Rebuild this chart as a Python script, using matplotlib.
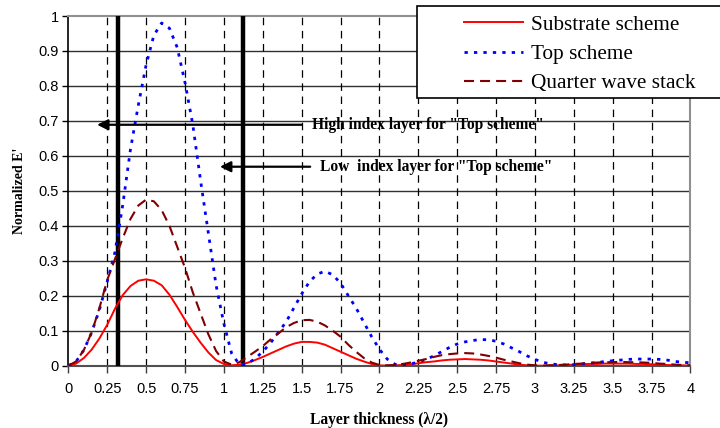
import numpy as np
import matplotlib
matplotlib.use("Agg")
import matplotlib.pyplot as plt
from matplotlib.patches import Rectangle

# ---- data ----
thickness = np.linspace(0, 4, 81)  # layer thickness in units of lambda/2, step 0.05

substrate_scheme = [
    0.000, 0.006, 0.022, 0.046, 0.078, 0.117, 0.163, 0.202, 0.228, 0.243,
    0.247, 0.243, 0.230, 0.203, 0.168, 0.131, 0.097, 0.066, 0.038, 0.016,
    0.005, 0.001, 0.003, 0.008, 0.016, 0.025, 0.035, 0.045, 0.055, 0.063,
    0.068, 0.068, 0.066, 0.060, 0.050, 0.040, 0.030, 0.020, 0.012, 0.005,
    0.001, 0.000, 0.001, 0.002, 0.004, 0.007, 0.010, 0.012, 0.015, 0.017,
    0.018, 0.019, 0.018, 0.017, 0.015, 0.012, 0.009, 0.006, 0.003, 0.001,
    0.000, 0.000, 0.001, 0.001, 0.002, 0.003, 0.004, 0.005, 0.005, 0.006,
    0.006, 0.006, 0.006, 0.005, 0.005, 0.004, 0.003, 0.002, 0.001, 0.001,
    0.000]

top_scheme = [
    0.000, 0.012, 0.045, 0.095, 0.160, 0.240, 0.325, 0.460, 0.620, 0.745,
    0.860, 0.945, 0.980, 0.965, 0.910, 0.810, 0.690, 0.530, 0.380, 0.230,
    0.120, 0.035, 0.003, 0.005, 0.020, 0.040, 0.065, 0.095, 0.125, 0.165,
    0.205, 0.240, 0.262, 0.270, 0.260, 0.236, 0.200, 0.165, 0.124, 0.083,
    0.047, 0.019, 0.004, 0.002, 0.005, 0.010, 0.018, 0.028, 0.040, 0.052,
    0.062, 0.068, 0.072, 0.075, 0.074, 0.070, 0.062, 0.051, 0.040, 0.028,
    0.018, 0.010, 0.005, 0.003, 0.002, 0.003, 0.005, 0.007, 0.009, 0.012,
    0.014, 0.016, 0.018, 0.019, 0.019, 0.019, 0.018, 0.016, 0.012, 0.010,
    0.008]

quarter_wave = [
    0.000, 0.012, 0.045, 0.095, 0.165, 0.245, 0.305, 0.365, 0.420, 0.458,
    0.475, 0.470, 0.445, 0.400, 0.340, 0.280, 0.210, 0.150, 0.090, 0.042,
    0.012, 0.003, 0.010, 0.025, 0.040, 0.056, 0.075, 0.092, 0.110, 0.122,
    0.130, 0.131, 0.126, 0.115, 0.100, 0.083, 0.060, 0.040, 0.022, 0.009,
    0.002, 0.001, 0.002, 0.005, 0.009, 0.014, 0.019, 0.025, 0.030, 0.033,
    0.035, 0.036, 0.035, 0.032, 0.028, 0.023, 0.017, 0.012, 0.007, 0.003,
    0.001, 0.000, 0.001, 0.002, 0.003, 0.005, 0.006, 0.008, 0.009, 0.010,
    0.010, 0.011, 0.010, 0.010, 0.009, 0.008, 0.006, 0.005, 0.003, 0.002,
    0.001]

series_names = ["Substrate scheme", "Top scheme", "Quarter wave stack"]
layer_boundaries = [0.32, 1.12]
x_ticks = [0, 0.25, 0.5, 0.75, 1, 1.25, 1.5, 1.75, 2, 2.25, 2.5, 2.75, 3,
           3.25, 3.5, 3.75, 4]
x_tick_labels = ["0", "0.25", "0.5", "0.75", "1", "1.25", "1.5", "1.75", "2",
                 "2.25", "2.5", "2.75", "3", "3.25", "3.5", "3.75", "4"]
y_ticks = [0, 0.1, 0.2, 0.3, 0.4, 0.5, 0.6, 0.7, 0.8, 0.9, 1]
y_tick_labels = ["0", "0.1", "0.2", "0.3", "0.4", "0.5", "0.6", "0.7", "0.8",
                 "0.9", "1"]
annotations = [
    ("High index layer for \"Top scheme\"", 0.689, 1.50, 0.185, 1.567),
    ("Low  index layer for \"Top scheme\"", 0.569, 1.555, 0.975, 1.618),
]

# ---- figure ----
fig = plt.figure(figsize=(7.2, 4.28), dpi=100)
ax = fig.add_axes([0.0949, 0.1456, 0.8641, 0.8170])

# grid
for yv in y_ticks[1:-1]:
    ax.axhline(yv, color="#303030", lw=1.0, zorder=1)
for xv in x_ticks[1:-1]:
    ax.axvline(xv, color="black", lw=0.9, dashes=(6.0, 4.5), zorder=1)

# thick layer boundary lines
for xb in layer_boundaries:
    ax.plot([xb, xb], [0, 1], color="black", lw=3.2, solid_capstyle="butt",
            zorder=3)

l1, = ax.plot(thickness, substrate_scheme, color="#FF0000", lw=1.4, zorder=4)
l2, = ax.plot(thickness, top_scheme, color="#0000FF", lw=2.0,
              dashes=(1.2, 2.2), zorder=4)
l3, = ax.plot(thickness, quarter_wave, color="#800000", lw=1.5,
              dashes=(4.8, 2.9), zorder=4)

# arrows and their labels
for text, yv, x_from, x_to, x_text in annotations:
    ax.annotate("", xy=(x_to, yv), xytext=(x_from, yv),
                arrowprops=dict(arrowstyle="-|>", color="black", lw=1.6,
                                mutation_scale=16, shrinkA=0, shrinkB=0),
                zorder=5)
    ax.text(x_text, yv, text, fontsize=11.2, fontweight="bold",
            family="Liberation Serif", va="center", ha="left", zorder=5)

ax.set_xlim(0, 4)
ax.set_ylim(0, 1)
ax.set_xticks(x_ticks)
ax.set_xticklabels(x_tick_labels)
ax.set_yticks(y_ticks)
ax.set_yticklabels(y_tick_labels)
for lab in ax.get_xticklabels() + ax.get_yticklabels():
    lab.set_family("Liberation Sans")
    lab.set_fontsize(10.5)
ax.tick_params(axis="x", direction="out", length=5, width=1, pad=7,
               color="#404040")
ax.tick_params(axis="y", direction="out", length=4, width=1, pad=3)

for side in ["top", "right"]:
    ax.spines[side].set_color("#909090")
    ax.spines[side].set_linewidth(1.5)
ax.spines["bottom"].set_color("#505050")
ax.spines["bottom"].set_linewidth(1.5)
ax.spines["left"].set_color("black")
ax.spines["left"].set_linewidth(1.2)

ax.set_xlabel("Layer thickness (λ/2)", fontsize=11.2, fontweight="bold",
              family="Liberation Serif", labelpad=11)
ax.set_ylabel("Normalized E'", fontsize=10, fontweight="bold",
              family="Liberation Serif", labelpad=9)

# legend box
fig.add_artist(Rectangle((417 / 720, 1 - 98 / 428), 0.45, 92 / 428,
                         transform=fig.transFigure, facecolor="white",
                         edgecolor="black", lw=1.2, zorder=6))
leg = fig.legend([l1, l2, l3], series_names, loc="center left",
                 bbox_to_anchor=(453 / 720, 1 - 54 / 428), frameon=False,
                 borderpad=0, handlelength=2.8, handletextpad=0.35,
                 labelspacing=0.45,
                 prop={"family": "Liberation Serif", "size": 15.3})
leg.set_zorder(8)

fig.savefig("out.png", dpi=100)
